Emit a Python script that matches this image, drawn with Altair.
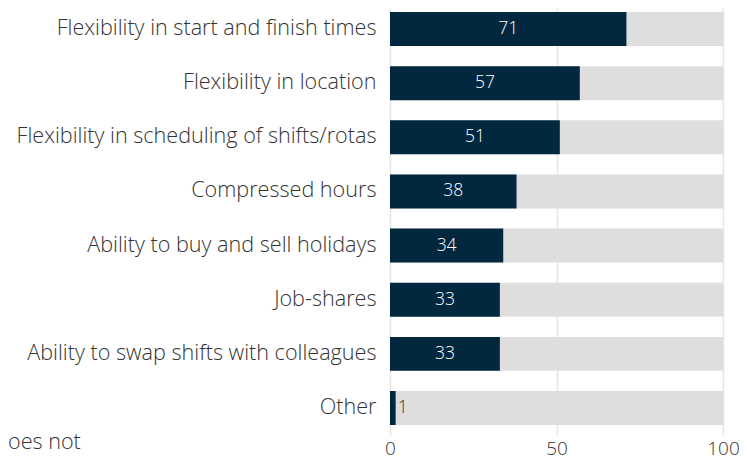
import altair as alt
import pandas as pd

categories = [
    "Flexibility in start and finish times",
    "Flexibility in location",
    "Flexibility in scheduling of shifts/rotas",
    "Compressed hours",
    "Ability to buy and sell holidays",
    "Job-shares",
    "Ability to swap shifts with colleagues",
    "Other",
]
values = [71, 57, 51, 38, 34, 33, 33, 1.7]
value_labels = ["71", "57", "51", "38", "34", "33", "33", "1"]
totals = [100, 100, 100, 100, 100, 100, 100, 100]
tick_values = [0, 50, 100]
note = "oes not"

df = pd.DataFrame({"category": categories, "value": values,
                   "label": value_labels, "total": totals})
df["mid"] = df["value"] / 2
df_in = df[df["value"] >= 10]
df_out = df[df["value"] < 10]

FONT = "Open Sans"
DARK = "#02283f"
TEXT = "#333333"

y = alt.Y("category:N", sort=categories,
          scale=alt.Scale(paddingInner=0.372, paddingOuter=0.13, align=0.29),
          axis=alt.Axis(title=None, labelFontSize=21.6, labelColor=TEXT,
                        labelFont=FONT, labelFontWeight=300, ticks=False,
                        domain=False, labelPadding=14, labelLimit=0, grid=False))
xscale = alt.Scale(domain=[0, 100], nice=False)

bg = alt.Chart(df).mark_bar(color="#dedede").encode(
    x=alt.X("total:Q", scale=xscale,
            axis=alt.Axis(values=tick_values, title=None, grid=True,
                          gridColor="#e6e6e6", gridWidth=1.5, domain=False,
                          ticks=False, labelFontSize=19, labelFont=FONT,
                          labelFontWeight=300, labelColor=TEXT, labelPadding=4,
                          labelFlush=False)),
    y=y,
)
fg = alt.Chart(df).mark_bar(color=DARK).encode(
    x=alt.X("value:Q", scale=xscale), y=y)
txt_in = alt.Chart(df_in).mark_text(color="white", fontSize=17.5, font=FONT,
                                    fontWeight=300, align="center",
                                    baseline="middle").encode(
    x=alt.X("mid:Q", scale=xscale), y=y, text="label:N")
txt_out = alt.Chart(df_out).mark_text(color=TEXT, fontSize=17.5, font=FONT,
                                      fontWeight=300, align="left",
                                      baseline="middle", dx=2).encode(
    x=alt.X("value:Q", scale=xscale), y=y, text="label:N")
note_layer = alt.Chart(pd.DataFrame({"t": [note]})).mark_text(
    color=TEXT, fontSize=21.6, font=FONT, fontWeight=300, align="left",
    baseline="middle").encode(
    text="t:N", x=alt.value(-382), y=alt.value(435))

chart = alt.layer(bg, fg, txt_in, txt_out, note_layer).properties(
    width=333, height=427,
    padding={"left": 382, "top": 0, "right": 16, "bottom": 28},
    autosize=alt.AutoSizeParams(type="none"),
).configure_view(stroke=None)

chart.save("out.html", embed_options={"renderer": "svg", "actions": False})
